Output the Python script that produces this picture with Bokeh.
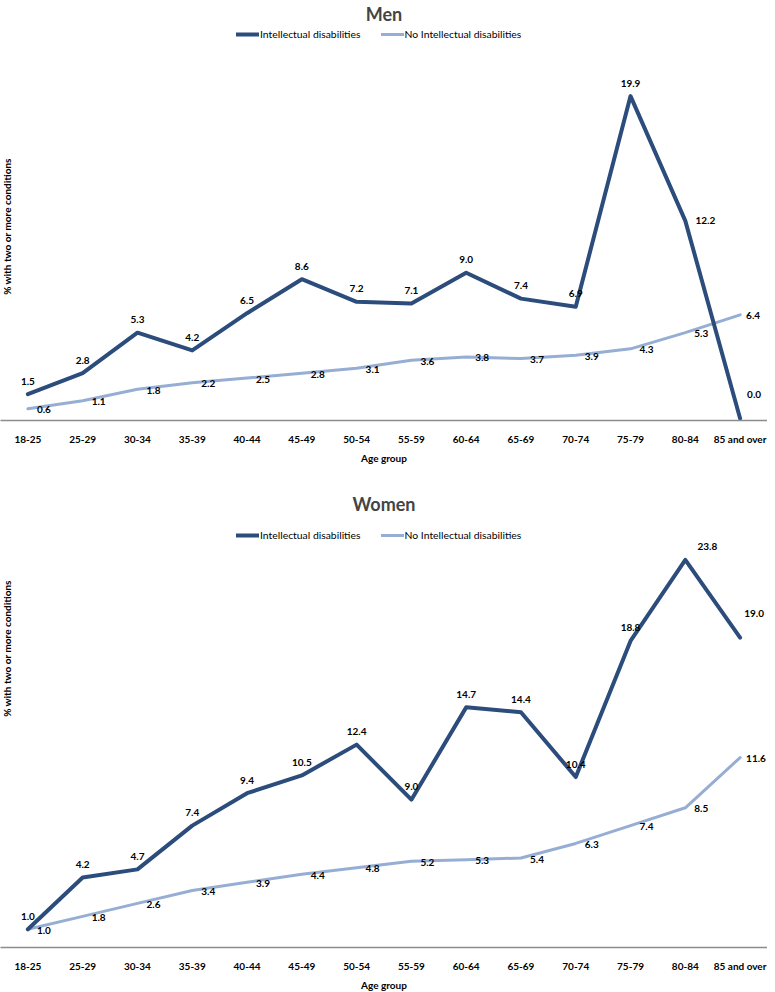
from bokeh.plotting import figure
from bokeh.models import ColumnDataSource, LabelSet, Label, Legend, LegendItem, Range1d, FactorRange
from bokeh.layouts import column
from bokeh.embed import file_html
from bokeh.resources import INLINE
from bokeh.core.properties import value

age_groups = ["18-25", "25-29", "30-34", "35-39", "40-44", "45-49", "50-54",
              "55-59", "60-64", "65-69", "70-74", "75-79", "80-84", "85 and over"]
men_id = [1.5, 2.8, 5.3, 4.2, 6.5, 8.6, 7.2, 7.1, 9.0, 7.4, 6.9, 19.9, 12.2, 0.0]
men_no_id = [0.6, 1.1, 1.8, 2.2, 2.5, 2.8, 3.1, 3.6, 3.8, 3.7, 3.9, 4.3, 5.3, 6.4]
women_id = [1.0, 4.2, 4.7, 7.4, 9.4, 10.5, 12.4, 9.0, 14.7, 14.4, 10.4, 18.8, 23.8, 19.0]
women_no_id = [1.0, 1.8, 2.6, 3.4, 3.9, 4.4, 4.8, 5.2, 5.3, 5.4, 6.3, 7.4, 8.5, 11.6]

series_names = ["Intellectual disabilities", "No Intellectual disabilities"]
y_title = "% with two or more conditions"
x_title = "Age group"

DARK = "#2c4d7c"
LIGHT = "#96aed4"
FONT = "Lato"
PX_PER_UNIT = 16.2


def labels(src, xo, yo, align="center"):
    return LabelSet(x="x", y="y", text="t", source=src, x_offset=xo, y_offset=yo,
                    text_align=align, text_baseline="middle", text_font=value(FONT),
                    text_font_size=value("10px"), text_font_style=value("bold"),
                    text_color=value("#000000"))


def src_of(xs, ys):
    return ColumnDataSource(dict(x=list(xs), y=list(ys), t=[f"{v:.1f}" for v in ys]))


def make_panel(title, id_vals, no_vals, frame_h, min_bottom, ylab_y, off_8084, legend_y):
    p = figure(x_range=FactorRange(*age_groups),
               y_range=Range1d(-2 / PX_PER_UNIT, (frame_h - 2) / PX_PER_UNIT),
               frame_width=767, frame_height=frame_h,
               output_backend="svg", toolbar_location=None, y_axis_location=None,
               min_border_left=0, min_border_right=0, min_border_top=0,
               min_border_bottom=min_bottom, outline_line_color=None)
    p.title.text = title
    p.title.align = "center"
    p.title.text_font = FONT
    p.title.text_font_size = "18px"
    p.title.text_font_style = "bold"
    p.title.standoff = 0
    p.title.offset = 0

    p.xgrid.grid_line_color = None
    p.ygrid.grid_line_color = None
    ax = p.xaxis[0]
    ax.axis_line_color = "#8c8c8c"
    ax.axis_line_width = 1.5
    ax.major_tick_line_color = None
    ax.minor_tick_line_color = None
    ax.major_label_text_font = FONT
    ax.major_label_text_font_size = "10px"
    ax.major_label_text_font_style = "bold"
    ax.major_label_text_color = "#000000"
    ax.major_label_standoff = 6
    ax.axis_label = x_title
    ax.axis_label_text_font = FONT
    ax.axis_label_text_font_size = "10px"
    ax.axis_label_text_font_style = "bold"
    ax.axis_label_text_color = "#000000"
    ax.axis_label_standoff = 4

    r_no = p.line(age_groups, no_vals, line_color=LIGHT, line_width=3,
                  line_join="round", line_cap="round")
    r_id = p.line(age_groups, id_vals, line_color=DARK, line_width=4,
                  line_join="round", line_cap="round")

    # data labels: dark series above, light series to the right
    p.add_layout(labels(src_of(age_groups[:12], id_vals[:12]), 0, 13))
    p.add_layout(labels(src_of(age_groups[12:13], id_vals[12:13]), off_8084[0], off_8084[1]))
    p.add_layout(labels(src_of(age_groups[13:], id_vals[13:]), 14, 24))
    p.add_layout(labels(src_of(age_groups[:13], no_vals[:13]), 9, -1, align="left"))
    p.add_layout(labels(src_of(age_groups[13:], no_vals[13:]), 6, -1, align="left"))

    legend = Legend(items=[LegendItem(label=series_names[0], renderers=[r_id]),
                           LegendItem(label=series_names[1], renderers=[r_no])],
                    location=(236, legend_y), orientation="horizontal",
                    glyph_width=23, glyph_height=10, label_standoff=1, spacing=20,
                    padding=0, margin=0, background_fill_alpha=0, border_line_alpha=0,
                    label_text_font=FONT, label_text_font_size="10.4px",
                    label_text_color="#000000", label_height=10)
    p.add_layout(legend)

    p.add_layout(Label(x=6, y=ylab_y, x_units="screen", y_units="screen", text=y_title,
                       angle=90, angle_units="deg", text_align="center",
                       text_baseline="middle", text_font=FONT, text_font_size="10px",
                       text_font_style="bold", text_color="#000000"))
    return p


p1 = make_panel("Men", men_id, men_no_id, 396, 70, 194, (20, 0), 380)
p2 = make_panel("Women", women_id, women_no_id, 433, 33, 299, (22, 13), 406)

layout = column(p1, p2, spacing=0)
open("out.html", "w").write(file_html(layout, INLINE))
